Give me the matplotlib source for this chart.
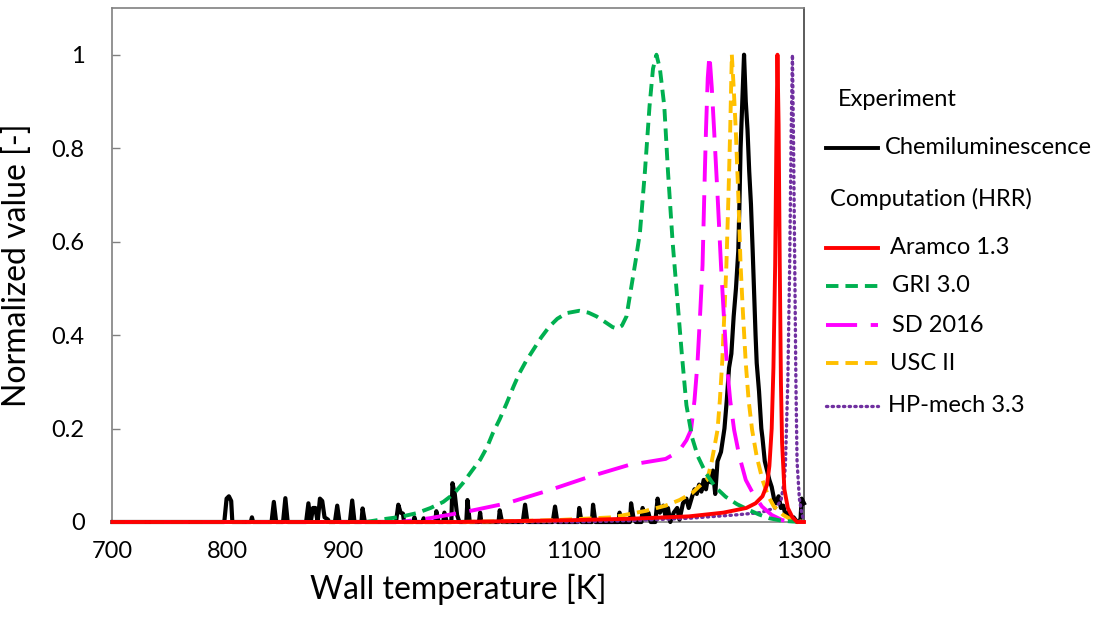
import matplotlib
matplotlib.use('Agg')
import matplotlib.pyplot as plt
from matplotlib.lines import Line2D

plt.rcParams['font.family'] = ['Lato', 'DejaVu Sans']

# Experiment (chemiluminescence)
exp_T = [700, 797, 799, 801, 803, 804, 820, 821, 822, 838, 840, 842, 848, 850, 852,
         868, 870, 872, 874, 876, 878, 880, 882, 884, 887, 888, 893, 895, 897,
         906, 908, 910, 916, 917, 919, 946, 948, 950, 952, 953, 961, 962, 963,
         969, 970, 971, 980, 981, 983, 987, 988, 990, 994, 995, 997, 999, 1001,
         1007, 1008, 1010, 1018, 1019, 1020, 1035, 1036, 1038, 1056, 1058, 1060,
         1082, 1084, 1086, 1104, 1105, 1107, 1116, 1117, 1119, 1139, 1140, 1141,
         1149, 1150, 1152, 1154, 1159, 1160, 1162, 1165, 1167,
         1171, 1173, 1175, 1178, 1180, 1182, 1184, 1187, 1190, 1192, 1195, 1198,
         1200, 1203, 1205, 1207, 1209, 1211, 1213, 1215, 1217, 1219, 1221, 1223,
         1225, 1228, 1231, 1233, 1235, 1237, 1239, 1241, 1243, 1244, 1245, 1246.5,
         1248, 1249.5, 1251, 1252.5, 1254, 1255.5, 1257, 1258, 1259, 1261, 1263,
         1264, 1266, 1268, 1270, 1272, 1274, 1276, 1278, 1280, 1282, 1284, 1286,
         1288, 1291, 1294, 1297, 1298, 1300]
exp_v = [0, 0, 0.05, 0.055, 0.045, 0, 0, 0.01, 0, 0, 0.043, 0, 0, 0.051, 0,
         0, 0.04, 0, 0.03, 0.03, 0, 0.05, 0.045, 0.01, 0.005, 0, 0, 0.035, 0,
         0, 0.046, 0, 0, 0.029, 0, 0, 0.037, 0.02, 0.018, 0, 0, 0.01, 0,
         0, 0.008, 0, 0, 0.023, 0, 0, 0.02, 0, 0, 0.083, 0.06, 0.015, 0,
         0, 0.047, 0, 0, 0.02, 0, 0, 0.025, 0, 0, 0.037, 0,
         0, 0.033, 0, 0, 0.03, 0, 0, 0.037, 0, 0, 0.02, 0,
         0, 0.04, 0.01, 0, 0, 0.03, 0.01, 0.02, 0,
         0, 0.05, 0.02, 0.035, 0.01, 0.03, 0, 0.02, 0.03, 0.005, 0.04, 0.05,
         0.03, 0.055, 0.07, 0.06, 0.08, 0.065, 0.09, 0.07, 0.1, 0.085, 0.11, 0.06,
         0.13, 0.15, 0.2, 0.26, 0.33, 0.36, 0.44, 0.5, 0.58, 0.68, 0.8, 0.9,
         1.0, 0.9, 0.84, 0.75, 0.68, 0.58, 0.47, 0.4, 0.34, 0.28, 0.2,
         0.18, 0.13, 0.11, 0.09, 0.075, 0.05, 0.04, 0.055, 0.03, 0.035, 0.015, 0.02,
         0.005, 0.01, 0, 0.005, 0.05, 0.04]

# Computation (HRR)
aramco_T = [700, 1000, 1050, 1100, 1150, 1200, 1230, 1250, 1258, 1264, 1268, 1270, 1272,
            1273.5, 1275, 1276, 1277, 1278, 1279, 1280, 1281, 1283, 1286, 1290, 1294, 1300]
aramco_v = [0, 0, 0.002, 0.004, 0.007, 0.012, 0.02, 0.03, 0.04, 0.055, 0.08, 0.12, 0.2,
            0.33, 0.55, 0.8, 1.0, 0.85, 0.55, 0.3, 0.17, 0.07, 0.03, 0.01, 0, 0]

gri_T = [700, 920, 935, 950, 964, 976, 987, 996, 1004, 1012, 1019, 1025, 1030, 1036, 1042,
         1048, 1053, 1059, 1065, 1072, 1079, 1086, 1094, 1105, 1113, 1120, 1128, 1134, 1138, 1142,
         1146, 1150, 1154, 1157.7, 1162, 1166, 1169, 1172, 1175, 1178.8, 1182, 1186, 1190,
         1194, 1198, 1203, 1208, 1215, 1223, 1232, 1242, 1252, 1261, 1270, 1280, 1290, 1300]
gri_v = [0, 0, 0.006, 0.011, 0.019, 0.03, 0.043, 0.06, 0.083, 0.11, 0.133, 0.16, 0.19, 0.22, 0.254,
         0.29, 0.318, 0.345, 0.368, 0.395, 0.418, 0.435, 0.447, 0.452, 0.448, 0.44, 0.427, 0.417, 0.414, 0.42,
         0.44, 0.5, 0.56, 0.62, 0.75, 0.89, 0.97, 1.0, 0.97, 0.89, 0.75, 0.6, 0.48,
         0.36, 0.25, 0.18, 0.14, 0.104, 0.075, 0.054, 0.038, 0.026, 0.016, 0.008, 0.003, 0.001, 0]

sd_T = [700, 950, 975, 1007, 1042, 1079, 1114, 1148, 1180, 1187, 1193, 1198, 1202, 1205,
        1207.6, 1210, 1212, 1214, 1215, 1216.5, 1218, 1220, 1222, 1225, 1228, 1230.5, 1233,
        1236, 1239.4, 1244, 1249.5, 1256, 1263.6, 1272, 1281, 1290, 1300]
sd_v = [0, 0, 0.008, 0.022, 0.04, 0.068, 0.097, 0.122, 0.135, 0.145, 0.157, 0.175, 0.197, 0.26,
        0.34, 0.45, 0.55, 0.75, 0.84, 0.95, 1.0, 0.93, 0.84, 0.7, 0.55, 0.44, 0.34,
        0.26, 0.197, 0.14, 0.09, 0.06, 0.033, 0.015, 0.004, 0.001, 0]

usc_T = [700, 1000, 1050, 1085, 1134, 1163, 1180, 1192, 1203, 1212, 1216, 1220, 1223, 1225,
         1227, 1229, 1231, 1232.7, 1234.5, 1236, 1237.4, 1239, 1240.8, 1243, 1245, 1247,
         1249.5, 1252, 1255, 1259, 1264, 1269, 1274, 1282, 1290, 1300]
usc_v = [0, 0, 0.002, 0.004, 0.01, 0.024, 0.035, 0.047, 0.062, 0.083, 0.09, 0.13, 0.17, 0.197,
         0.26, 0.34, 0.45, 0.55, 0.7, 0.84, 1.0, 0.93, 0.84, 0.7, 0.55, 0.45,
         0.34, 0.26, 0.197, 0.14, 0.09, 0.055, 0.033, 0.015, 0.004, 0]

hp_T = [700, 1100, 1150, 1200, 1240, 1262, 1275, 1280, 1283, 1284, 1286, 1287.6, 1289, 1290,
        1291, 1292, 1293, 1294, 1296, 1298, 1300]
hp_v = [0, 0, 0.003, 0.008, 0.015, 0.02, 0.03, 0.045, 0.09, 0.13, 0.3, 0.55, 0.85, 1.0,
        0.8, 0.55, 0.3, 0.13, 0.05, 0.02, 0]

x_ticks = [700, 800, 900, 1000, 1100, 1200, 1300]
y_ticks = [0, 0.2, 0.4, 0.6, 0.8, 1]
y_tick_labels = ['0', '0.2', '0.4', '0.6', '0.8', '1']

hp_style = dict(color='#7030A0', lw=2.4, linestyle=(0, (0.4, 1.3)), dash_capstyle='round')

fig = plt.figure(figsize=(11.16, 6.28), dpi=100)
ax = fig.add_axes([0.1008, 0.1688, 0.6196, 0.8185])

ax.plot(exp_T, exp_v, color='black', lw=3.0, solid_joinstyle='round', clip_on=False, zorder=3)
ax.plot(hp_T, hp_v, clip_on=False, zorder=4, **hp_style)
ax.plot(usc_T, usc_v, color='#FFC000', lw=2.8, linestyle=(0, (3.2, 1.8)), clip_on=False, zorder=4)
ax.plot(sd_T, sd_v, color='#FF00FF', lw=2.8, linestyle=(0, (8, 3.5)), clip_on=False, zorder=4)
ax.plot(gri_T, gri_v, color='#00B050', lw=2.8, linestyle=(0, (3.2, 1.8)), clip_on=False, zorder=4)
ax.plot(aramco_T, aramco_v, color='#FF0000', lw=2.8, clip_on=False, zorder=5)

ax.set_xlim(700, 1300)
ax.set_ylim(0, 1.1)
ax.set_xticks(x_ticks)
ax.set_yticks(y_ticks)
ax.set_yticklabels(y_tick_labels)
ax.tick_params(axis='y', direction='in', length=6, width=1, color='#808080', labelsize=17, pad=20)
ax.tick_params(axis='x', direction='in', length=0, labelsize=17, pad=14)
for s in ax.spines.values():
    s.set_color('#808080')
    s.set_linewidth(1.2)
ax.spines['right'].set_color('#404040')

ax.set_xlabel('Wall temperature [K]', fontsize=23, labelpad=8)
ax.set_ylabel('Normalized value [-]', fontsize=23, labelpad=14)

# legend drawn beside the axes
W, H = 1116.0, 628.0
def fx(px):
    return px / W
def fy(py):
    return 1 - py / H

fs = 17
fig.text(fx(838), fy(100), 'Experiment', fontsize=fs, va='center')
fig.text(fx(830), fy(199), 'Computation (HRR)', fontsize=fs, va='center')

entries = [
    (148, 885, 'Chemiluminescence', dict(color='black', lw=2.8)),
    (248, 890, 'Aramco 1.3', dict(color='#FF0000', lw=2.8)),
    (286, 892, 'GRI 3.0', dict(color='#00B050', lw=2.8, linestyle=(0, (3.2, 1.8)))),
    (325, 892, 'SD 2016', dict(color='#FF00FF', lw=2.8, linestyle=(0, (8, 3.5)))),
    (363, 890, 'USC II', dict(color='#FFC000', lw=2.8, linestyle=(0, (3.2, 1.8)))),
    (406, 888, 'HP-mech 3.3', hp_style),
]
for py, tx, label, style in entries:
    fig.add_artist(Line2D([fx(826), fx(878)], [fy(py), fy(py)], transform=fig.transFigure, **style))
    fig.text(fx(tx), fy(py), label, fontsize=fs, va='center')

fig.savefig('out.png', dpi=100)
